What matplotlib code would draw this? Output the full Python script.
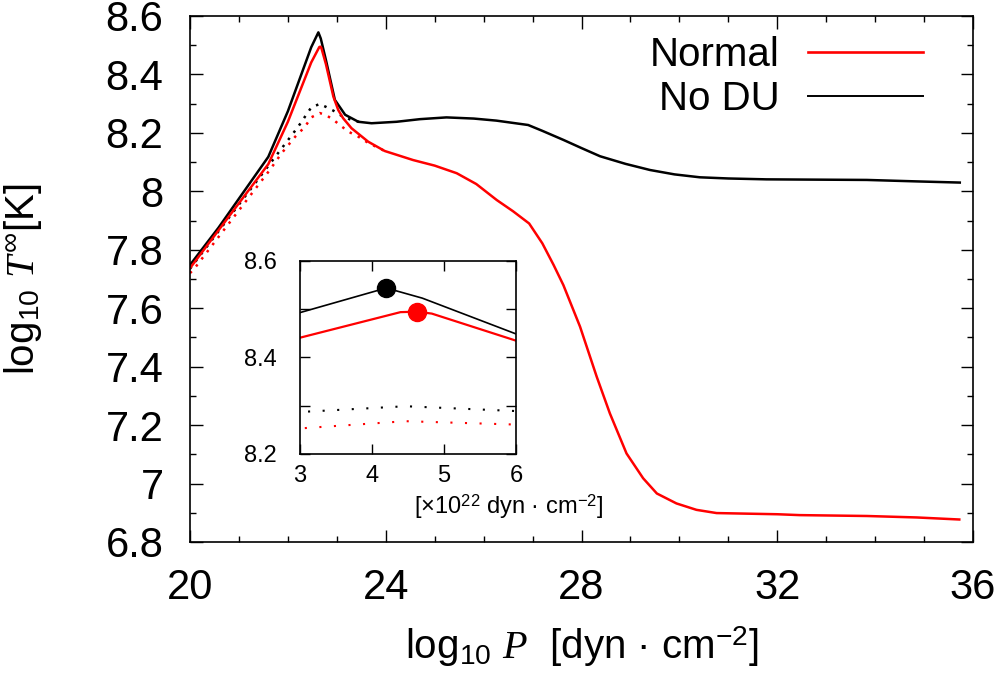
import numpy as np
import matplotlib
matplotlib.use("Agg")
import matplotlib.pyplot as plt
from matplotlib.ticker import MultipleLocator

plt.rcParams["font.family"] = ["Liberation Sans", "DejaVu Sans"]
plt.rcParams["mathtext.fontset"] = "custom"
plt.rcParams["mathtext.rm"] = "Liberation Sans"
plt.rcParams["mathtext.it"] = "Liberation Serif:italic"

# log10 P [dyn cm^-2] -> log10 T_inf [K]
nodu_x = [20.0, 20.58, 21.6, 22.0, 22.477, 22.623, 22.672, 22.778, 22.96, 23.17, 23.44,
          23.71, 24.22, 24.7, 25.24, 25.8, 26.26, 26.91, 27.2, 27.63, 28.0, 28.38,
          28.9, 29.40, 29.9, 30.42, 31.0, 31.78, 33.83, 34.85, 35.73]
nodu_y = [7.748, 7.875, 8.118, 8.274, 8.493, 8.544, 8.523, 8.449, 8.313, 8.262, 8.238,
          8.233, 8.238, 8.247, 8.253, 8.249, 8.242, 8.227, 8.207, 8.176, 8.148, 8.120,
          8.094, 8.073, 8.058, 8.048, 8.044, 8.041, 8.039, 8.034, 8.030]

norm_x = [20.0, 20.8, 21.6, 22.0, 22.477, 22.643, 22.665, 22.684, 22.778, 22.93, 23.03,
          23.13, 23.3, 23.64, 23.98, 24.56, 25.0, 25.45, 25.85, 26.27, 26.6, 26.93,
          27.2, 27.43, 27.63, 27.97, 28.31, 28.58, 28.92, 29.26, 29.54, 29.94, 30.35,
          30.76, 32.0, 32.46, 33.83, 34.85, 35.72]
norm_y = [7.737, 7.915, 8.093, 8.238, 8.441, 8.494, 8.495, 8.491, 8.435, 8.324, 8.278,
          8.250, 8.216, 8.170, 8.138, 8.107, 8.088, 8.062, 8.025, 7.970, 7.932, 7.890,
          7.822, 7.748, 7.679, 7.537, 7.366, 7.240, 7.103, 7.018, 6.966, 6.932, 6.910,
          6.899, 6.895, 6.892, 6.889, 6.884, 6.877]

# dotted companions (merge with the solid curves after the peak)
nodu_dot_x = [20.0, 21.0, 21.6, 22.21, 22.477, 22.65, 22.778, 22.93, 23.10, 23.3, 23.5]
nodu_dot_y = [7.735, 7.955, 8.087, 8.221, 8.287, 8.299, 8.289, 8.276, 8.258, 8.244, 8.236]
norm_dot_x = [20.0, 20.1, 21.63, 21.87, 22.15, 22.35, 22.477, 22.65, 22.778, 22.93,
              23.06, 23.24, 23.44, 23.64, 23.98]
norm_dot_y = [7.72, 7.738, 8.073, 8.13, 8.187, 8.221, 8.253, 8.268, 8.261, 8.245,
              8.227, 8.204, 8.187, 8.166, 8.138]

# peak markers (inset, units of 1e22 dyn cm^-2)
peak_nodu = (4.2, 8.544)
peak_norm = (4.62, 8.495)

RED = "#ff0000"

fig = plt.figure(figsize=(10, 6.76), dpi=100)
ax = fig.add_axes([0.19, 1 - 542 / 676, 0.783, 526 / 676])

ax.plot(nodu_dot_x, nodu_dot_y, color="k", lw=1.8, ls=(0, (1, 2.6)))
ax.plot(norm_dot_x, norm_dot_y, color=RED, lw=1.8, ls=(0, (1, 2.6)))
ax.plot(nodu_x, nodu_y, color="k", lw=1.8)
ax.plot(norm_x, norm_y, color=RED, lw=1.8)

# legend handles
ax.plot([], [], color=RED, lw=1.9, label="Normal")
ax.plot([], [], color="k", lw=1.4, label="No DU")
h, l = ax.get_legend_handles_labels()
ax.legend(h[-2:], l[-2:], loc="upper right", bbox_to_anchor=(0.936, 0.962),
          frameon=False, markerfirst=False, fontsize=29, handlelength=2.85,
          handletextpad=0.7, labelspacing=0.15, borderpad=0, borderaxespad=0)

ax.set_xlim(20, 36)
ax.set_ylim(6.8, 8.6)
ax.xaxis.set_major_locator(MultipleLocator(4))
ax.xaxis.set_minor_locator(MultipleLocator(1))
ax.yaxis.set_major_locator(MultipleLocator(0.2))
ax.yaxis.set_minor_locator(MultipleLocator(0.1))
ax.yaxis.set_major_formatter(lambda v, p: f"{v:.1f}".rstrip("0").rstrip("."))
ax.tick_params(which="both", direction="in", top=True, right=True, width=1.0)
ax.tick_params(which="major", length=9, labelsize=30, pad=19)
ax.tick_params(which="minor", length=4.5)
for s in ax.spines.values():
    s.set_linewidth(1.2)

ax.set_xlabel(r"log$_{10}$ $P$  [dyn · cm$^{-2}$]", fontsize=29)
ax.set_ylabel(r"log$_{10}$ $T^{\infty}$[K]", fontsize=29)
ax.xaxis.set_label_coords(0.5, -0.157)
ax.yaxis.set_label_coords(-0.186, 0.5)

# inset: peak region in linear pressure
axi = fig.add_axes([0.300, 1 - 454 / 676, 0.216, 193 / 676])
to_lin = lambda xs: 10 ** (np.array(xs) - 22)
axi.plot(to_lin(nodu_dot_x), nodu_dot_y, color="k", lw=1.5, ls=(0, (1, 6)))
axi.plot(to_lin(norm_dot_x), norm_dot_y, color=RED, lw=1.5, ls=(0, (1, 6)))
axi.plot(to_lin(nodu_x), nodu_y, color="k", lw=1.2)
axi.plot(to_lin(norm_x), norm_y, color=RED, lw=1.6)
axi.plot(*peak_nodu, "o", color="k", ms=13)
axi.plot(*peak_norm, "o", color=RED, ms=13)
axi.set_xlim(3, 6)
axi.set_ylim(8.2, 8.6)
axi.xaxis.set_major_locator(MultipleLocator(1))
axi.yaxis.set_major_locator(MultipleLocator(0.2))
axi.yaxis.set_minor_locator(MultipleLocator(0.1))
axi.tick_params(which="both", direction="in", top=True, right=True, length=7,
                width=1.0, labelsize=17)
axi.tick_params(axis="y", pad=17)
axi.tick_params(axis="x", pad=8)
for s in axi.spines.values():
    s.set_linewidth(1.2)
axi.text(0.968, -0.27, r"[×10$^{22}$ dyn · cm$^{-2}$]", transform=axi.transAxes,
         ha="center", va="center", fontsize=17)

fig.savefig("out.png", dpi=100)
